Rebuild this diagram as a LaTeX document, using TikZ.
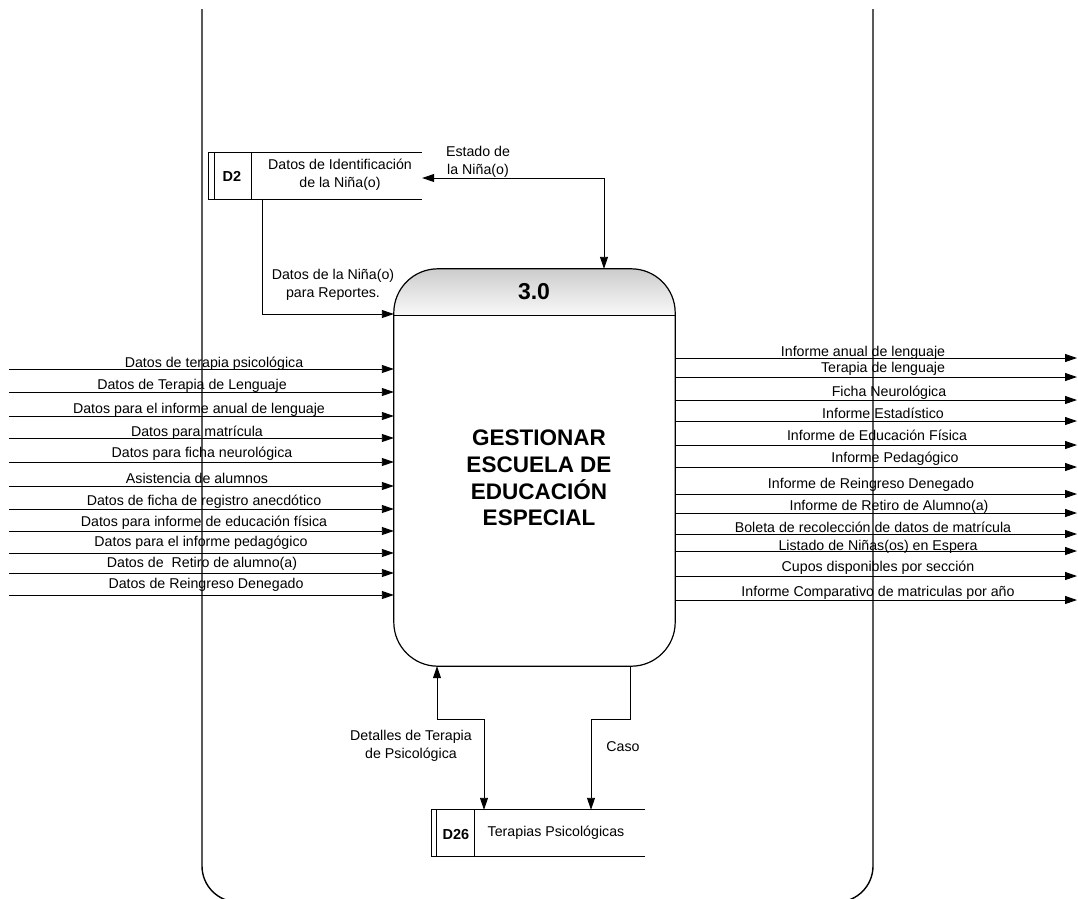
\documentclass[tikz,border=0pt]{standalone}
\usepackage{fontspec}
\setmainfont{Liberation Sans}
\usetikzlibrary{arrows.meta}
\begin{document}
\begin{tikzpicture}[x=1pt,y=-1pt,
  lbl/.style={font=\fontsize{14.2}{18}\selectfont, inner sep=0pt, anchor=base},
  mlbl/.style={font=\fontsize{14.2}{18}\selectfont, inner sep=0pt, align=center},
  flow/.style={line width=0.9pt, -{Triangle[length=12pt,width=8pt]}},
  bflow/.style={line width=0.9pt, {Triangle[length=12pt,width=8pt]}-{Triangle[length=12pt,width=8pt]}},
  frameline/.style={line width=1.4pt},
  storeline/.style={line width=0.9pt},
  storebox/.style={minimum width=213pt, minimum height=46pt, inner sep=0pt},
  storeid/.style={font=\bfseries\fontsize{14.5}{17}\selectfont, inner sep=0pt}]
\useasboundingbox (0,0) rectangle (1078,898);

% outer frame
\draw[frameline, rounded corners=36pt] (202,9) -- (202,902) -- (873,902) -- (873,9);

% process
\node[minimum width=281pt, minimum height=397pt, inner sep=0pt] (proc) at (534.5,467.5) {};
\begin{scope}
  \clip[rounded corners=44pt] (proc.north west) rectangle (proc.south east);
  \shade[top color=gray!40, bottom color=gray!4] (proc.north west) rectangle ([yshift=-47pt]proc.north east);
\end{scope}
\draw[line width=1.2pt, rounded corners=44pt] (proc.north west) rectangle (proc.south east);
\draw[line width=1.2pt] ([yshift=-47pt]proc.north west) -- ([yshift=-47pt]proc.north east);
\node[font=\bfseries\fontsize{23}{27}\selectfont, inner sep=0pt] (pid) at (534,292) {3.0};
\node[font=\bfseries\fontsize{22.5}{26.8}\selectfont, align=center, inner sep=0pt] (ptitle) at (539,478) {GESTIONAR\\ESCUELA DE\\EDUCACIÓN\\ESPECIAL};

% store D2
\node[storebox] (d2) at (315.5,176) {};
\draw[storeline] (d2.north east) -- (d2.north west) -- (d2.south west) -- (d2.south east);
\draw[storeline] ([xshift=6pt]d2.north west) -- ([xshift=6pt]d2.south west);
\draw[storeline] ([xshift=43pt]d2.north west) -- ([xshift=43pt]d2.south west);
\node[storeid] (d2id) at (232,176) {D2};
\node[mlbl] (d2name) at (340,175) {Datos de Identificación\\de la Niña(o)};

% store D26
\node[storebox] (d26) at (538.5,833) {};
\draw[storeline] (d26.north east) -- (d26.north west) -- (d26.south west) -- (d26.south east);
\draw[storeline] ([xshift=5pt]d26.north west) -- ([xshift=5pt]d26.south west);
\draw[storeline] ([xshift=43pt]d26.north west) -- ([xshift=43pt]d26.south west);
\node[storeid] (d26id) at (456,834) {D26};
\node[mlbl] (d26name) at (556,833) {Terapias Psicológicas};

% D2 <-> process
\coordinate (estx) at (604,0);
\coordinate (esty) at (0,178);
\draw[bflow] (d2.east |- esty) -| (proc.north -| estx);
\node[mlbl] (estlbl) at (478,162) {Estado de\\la Niña(o)};

\coordinate (repx) at (262,0);
\coordinate (repy) at (0,314);
\draw[flow] (d2.south -| repx) |- (proc.west |- repy);
\node[mlbl] (replbl) at (333,285) {Datos de la Niña(o)\\para Reportes.};

% process <-> D26
\coordinate (elbow) at (0,719);
\coordinate (detx) at (437,0);
\coordinate (detd) at (484,0);
\coordinate (casx) at (630,0);
\coordinate (casd) at (591,0);
\draw[bflow] (d26.north -| detd) -- (detd |- elbow) -- (detx |- elbow) -- (proc.south -| detx);
\draw[flow] (proc.south -| casx) -- (casx |- elbow) -- (casd |- elbow) -- (d26.north -| casd);
\node[mlbl] (detlbl) at (411,746) {Detalles de Terapia\\de Psicológica};
\node[mlbl] (caslbl) at (623,747) {Caso};

% inputs (left)
\foreach \ly/\lx/\lb/\txt [count=\i] in {
  369/214/367.5/Datos de terapia psicológica,
  392/192/389.5/Datos de Terapia de Lenguaje,
  416/199/413.5/Datos para el informe anual de lenguaje,
  438/197/436.5/Datos para matrícula,
  462/202/457.5/Datos para ficha neurológica,
  486/197/483.5/Asistencia de alumnos,
  509/204/505.5/Datos de ficha de registro anecdótico,
  531/204/526.5/Datos para informe de educación física,
  553/201/546.5/Datos para el informe pedagógico,
  573/202/567.5/Datos de\ \ Retiro de alumno(a),
  595/206/588.5/Datos de Reingreso Denegado}{
  \coordinate (in\i) at (9,\ly);
  \draw[flow] (in\i) -- (in\i -| proc.west);
  \node[lbl] (inlbl\i) at (\lx,\lb) {\txt};
}

% outputs (right)
\foreach \ly/\lx/\lb/\txt [count=\i] in {
  358/863/356.5/Informe anual de lenguaje,
  377/883/372.5/Terapia de lenguaje,
  400/889/396.5/Ficha Neurológica,
  421/883/418.5/Informe Estadístico,
  445/877/440.5/Informe de Educación Física,
  467/895/462.5/Informe Pedagógico,
  494/871/488.5/Informe de Reingreso Denegado,
  513/889/510.5/Informe de Retiro de Alumno(a),
  534/873/532.5/Boleta de recolección de datos de matrícula,
  551/878/550.5/Listado de Niñas(os) en Espera,
  576/878/571.5/Cupos disponibles por sección,
  600/878/596.5/Informe Comparativo de matriculas por año}{
  \coordinate (out\i) at (1077,\ly);
  \draw[flow] (out\i -| proc.east) -- (out\i);
  \node[lbl] (outlbl\i) at (\lx,\lb) {\txt};
}
\end{tikzpicture}
\end{document}
